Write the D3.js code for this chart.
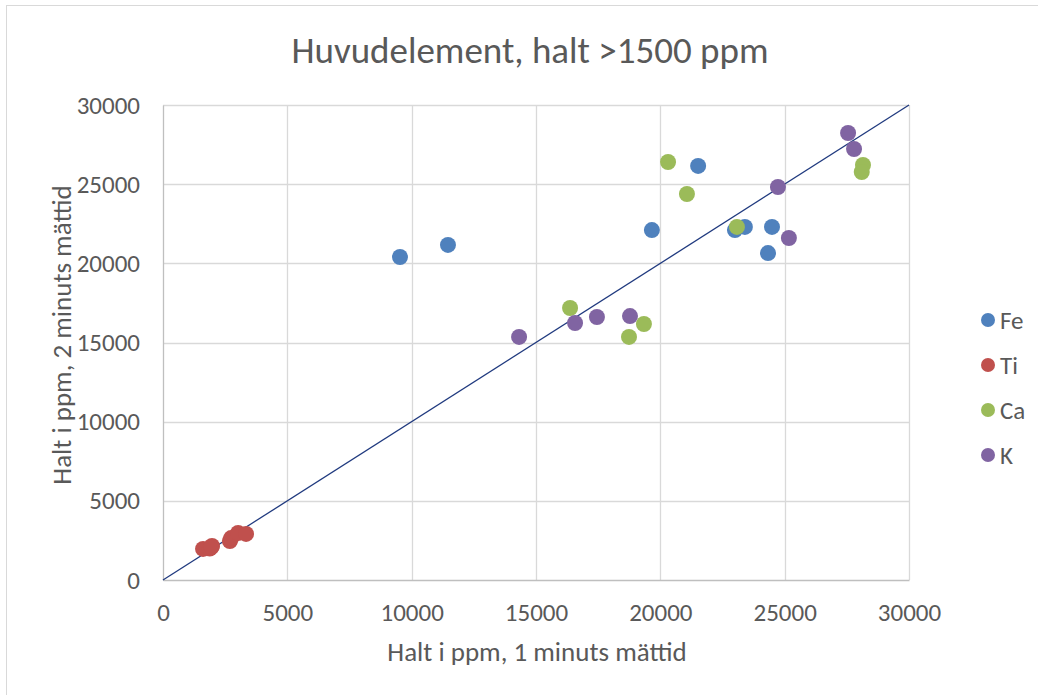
<!DOCTYPE html>
<html>
<head>
<meta charset="utf-8">
<script src="https://cdn.jsdelivr.net/npm/d3@7"></script>
<style>
  html, body { margin: 0; padding: 0; background: #fff; }
  svg { display: block; }
  text { font-family: Carlito, Calibri, Lato, "Open Sans", sans-serif; fill: #595959; }
</style>
</head>
<body>
<svg id="chart" width="1038" height="695"></svg>
<script>
// Element concentrations: 1 minute measurement (x) vs 2 minute measurement (y), ppm
const seriesNames = ["Fe", "Ti", "Ca", "K"];
const seriesColors = ["#4f81bd", "#c0504d", "#9bbb59", "#8064a2"];

const feX = [9530, 11460, 19660, 21520, 23000, 23400, 24490, 24330];
const feY = [20400, 21160, 22100, 26150, 22100, 22300, 22300, 20650];

const tiX = [1610, 1880, 1970, 1950, 2690, 2740, 3020, 3340];
const tiY = [1960, 1990, 2150, 2080, 2460, 2650, 2970, 2910];

const caX = [20310, 21070, 23080, 28150, 28100, 16370, 19340, 18740];
const caY = [26400, 24380, 22300, 26210, 25770, 17180, 16170, 15350];

const kX = [27550, 27790, 24730, 25170, 14320, 16570, 17450, 18780];
const kY = [28230, 27220, 24820, 21600, 15350, 16230, 16610, 16670];

const xTicks = [0, 5000, 10000, 15000, 20000, 25000, 30000];
const yTicks = [0, 5000, 10000, 15000, 20000, 25000, 30000];

const titleText = "Huvudelement, halt >1500 ppm";
const xTitle = "Halt i ppm, 1 minuts mättid";
const yTitle = "Halt i ppm, 2 minuts mättid";

const seriesX = [feX, tiX, caX, kX];
const seriesY = [feY, tiY, caY, kY];

const svg = d3.select("#chart");
const plot = { left: 163, right: 909, top: 105, bottom: 580 };

const x = d3.scaleLinear().domain([0, 30000]).range([plot.left, plot.right]);
const y = d3.scaleLinear().domain([0, 30000]).range([plot.bottom, plot.top]);

// outer chart frame
svg.append("line").attr("x1", 6.5).attr("x2", 6.5).attr("y1", 5).attr("y2", 695)
  .attr("stroke", "#d9d9d9").attr("stroke-width", 1);
svg.append("line").attr("x1", 6).attr("x2", 1038).attr("y1", 5.5).attr("y2", 5.5)
  .attr("stroke", "#d9d9d9").attr("stroke-width", 1);

// title
svg.append("text")
  .attr("x", 530).attr("y", 63)
  .attr("text-anchor", "middle")
  .style("font-size", "37px")
  .text(titleText);

// gridlines
const grid = svg.append("g");
grid.selectAll(".gx").data(xTicks.filter(d => d > 0)).join("line")
  .attr("x1", d => Math.round(x(d)) + 0.5).attr("x2", d => Math.round(x(d)) + 0.5)
  .attr("y1", plot.top).attr("y2", plot.bottom)
  .attr("stroke", "#d9d9d9").attr("stroke-width", 1.3);
grid.selectAll(".gy").data(yTicks.filter(d => d > 0)).join("line")
  .attr("x1", plot.left).attr("x2", plot.right)
  .attr("y1", d => Math.round(y(d)) + 0.5).attr("y2", d => Math.round(y(d)) + 0.5)
  .attr("stroke", "#d9d9d9").attr("stroke-width", 1.3);

// axes
const xAxis = svg.append("g")
  .attr("transform", `translate(0,${plot.bottom})`)
  .call(d3.axisBottom(x).tickValues(xTicks).tickSize(0).tickFormat(d3.format("d")));
const yAxis = svg.append("g")
  .attr("transform", `translate(${plot.left},0)`)
  .call(d3.axisLeft(y).tickValues(yTicks).tickSize(0).tickPadding(23).tickFormat(d3.format("d")));
[xAxis, yAxis].forEach(a => {
  a.select(".domain").attr("stroke", "#bfbfbf").attr("stroke-width", 1.3);
  a.selectAll("text").style("font-size", "25px").attr("fill", "#595959")
    .style("font-family", "Carlito, Calibri, Lato, 'Open Sans', sans-serif");
});
xAxis.selectAll("text").attr("y", 32).attr("dy", "0.35em");

// 1:1 reference line
svg.append("line")
  .attr("x1", x(0)).attr("y1", y(0))
  .attr("x2", x(30000)).attr("y2", y(30000))
  .attr("stroke", "#203a7f").attr("stroke-width", 1.3);

// points
seriesNames.forEach((name, i) => {
  const pts = seriesX[i].map((v, j) => [v, seriesY[i][j]]);
  svg.append("g").selectAll("circle").data(pts).join("circle")
    .attr("cx", d => x(d[0])).attr("cy", d => y(d[1]))
    .attr("r", 8)
    .attr("fill", seriesColors[i]);
});

// axis titles
svg.append("text")
  .attr("x", 537).attr("y", 661)
  .attr("text-anchor", "middle")
  .style("font-size", "27px")
  .text(xTitle);
svg.append("text")
  .attr("transform", "translate(71,335) rotate(-90)")
  .attr("text-anchor", "middle")
  .style("font-size", "27px")
  .text(yTitle);

// legend
const legend = svg.append("g");
seriesNames.forEach((name, i) => {
  const ly = 320 + i * 45;
  legend.append("circle").attr("cx", 988).attr("cy", ly).attr("r", 7).attr("fill", seriesColors[i]);
  legend.append("text").attr("x", 1000).attr("y", ly).attr("dy", "0.35em")
    .style("font-size", "25px").text(name);
});
</script>
</body>
</html>
